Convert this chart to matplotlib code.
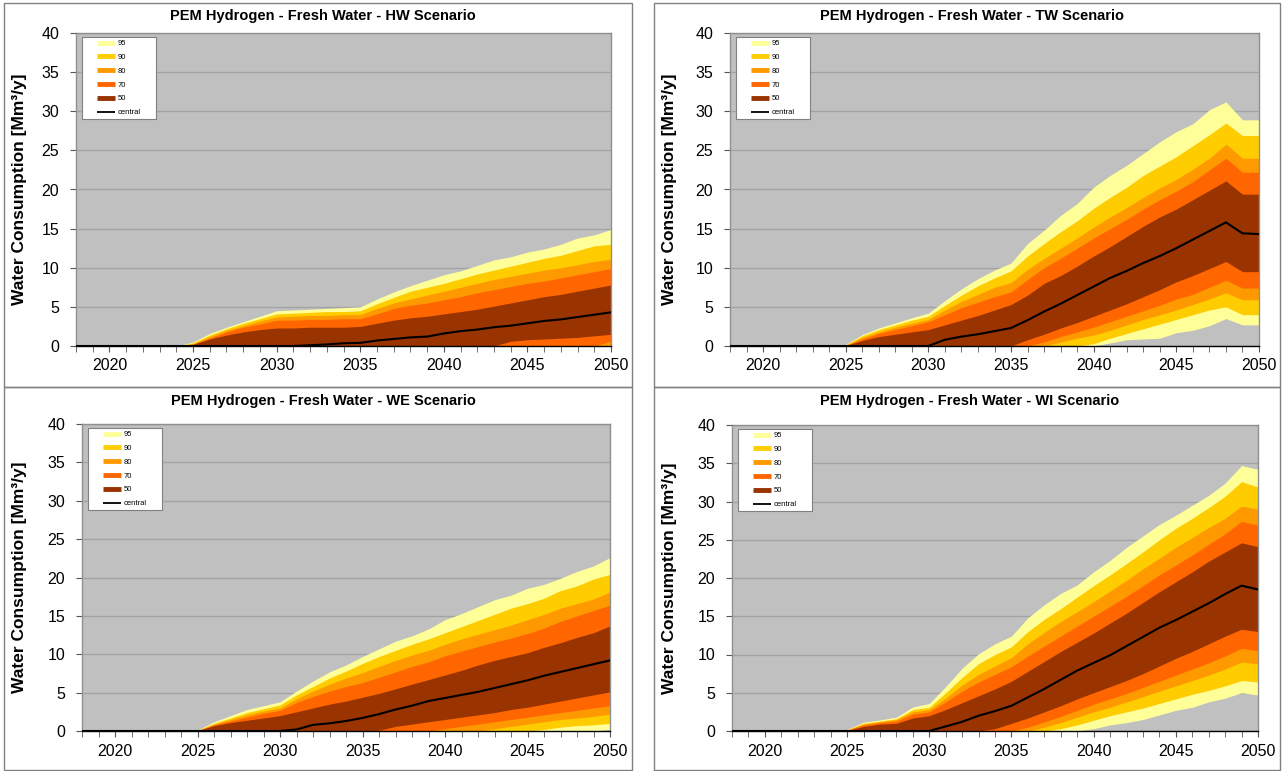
import matplotlib
matplotlib.use("Agg")
import matplotlib.pyplot as plt
from matplotlib.lines import Line2D
from matplotlib.patches import Rectangle
from matplotlib.ticker import MultipleLocator
from matplotlib.legend_handler import HandlerBase

plt.rcParams['font.family'] = ['Liberation Sans', 'DejaVu Sans']

years = list(range(2018, 2051))
band_labels = ['95', '90', '80', '70', '50']
band_colors = ['#FFFF99', '#FFCC00', '#FF9900', '#FF6600', '#993300']

# ---------------- HW scenario ----------------
hw_u95 = [0, 0, 0, 0, 0, 0, 0, 0.5, 1.6, 2.4, 3.1, 3.8, 4.5, 4.6, 4.7, 4.8, 4.9, 5.0, 6.0, 6.9, 7.7, 8.4, 9.1, 9.6, 10.3, 11.0, 11.4, 12.0, 12.4, 13.0, 13.8, 14.2, 14.9]
hw_u90 = [0, 0, 0, 0, 0, 0, 0, 0.4, 1.4, 2.2, 2.9, 3.5, 4.1, 4.2, 4.3, 4.4, 4.4, 4.5, 5.4, 6.2, 7.0, 7.5, 8.0, 8.6, 9.2, 9.7, 10.2, 10.7, 11.2, 11.6, 12.2, 12.8, 13.0]
hw_u80 = [0, 0, 0, 0, 0, 0, 0, 0.3, 1.2, 2.0, 2.6, 3.2, 3.7, 3.8, 3.9, 3.9, 4.0, 4.0, 4.8, 5.5, 6.0, 6.5, 7.0, 7.5, 8.0, 8.5, 8.9, 9.3, 9.7, 10.0, 10.4, 10.8, 11.1]
hw_u70 = [0, 0, 0, 0, 0, 0, 0, 0.25, 1.0, 1.8, 2.4, 2.8, 3.3, 3.3, 3.4, 3.4, 3.5, 3.5, 4.1, 4.8, 5.2, 5.5, 5.9, 6.3, 6.8, 7.2, 7.6, 8.0, 8.3, 8.7, 9.1, 9.5, 9.9]
hw_u50 = [0, 0, 0, 0, 0, 0, 0, 0.2, 0.9, 1.4, 1.8, 2.1, 2.3, 2.3, 2.4, 2.4, 2.4, 2.5, 2.9, 3.3, 3.6, 3.8, 4.1, 4.4, 4.7, 5.1, 5.5, 5.9, 6.3, 6.6, 7.0, 7.4, 7.8]
hw_central = [0, 0, 0, 0, 0, 0, 0, 0, 0, 0, 0, 0, 0, 0, 0.1, 0.2, 0.35, 0.4, 0.7, 0.9, 1.1, 1.2, 1.6, 1.9, 2.1, 2.4, 2.6, 2.9, 3.2, 3.4, 3.7, 4.0, 4.3]
hw_l50 = [0, 0, 0, 0, 0, 0, 0, 0, 0, 0, 0, 0, 0, 0, 0, 0, 0, 0, 0, 0, 0, 0, 0, 0, 0, 0, 0.6, 0.8, 0.9, 1.0, 1.1, 1.3, 1.5]
hw_l70 = [0, 0, 0, 0, 0, 0, 0, 0, 0, 0, 0, 0, 0, 0, 0, 0, 0, 0, 0, 0, 0, 0, 0, 0, 0, 0, 0, 0, 0, 0, 0, 0, 0.6]
hw_l80 = [0, 0, 0, 0, 0, 0, 0, 0, 0, 0, 0, 0, 0, 0, 0, 0, 0, 0, 0, 0, 0, 0, 0, 0, 0, 0, 0, 0, 0, 0, 0, 0, 0]
hw_l90 = [0, 0, 0, 0, 0, 0, 0, 0, 0, 0, 0, 0, 0, 0, 0, 0, 0, 0, 0, 0, 0, 0, 0, 0, 0, 0, 0, 0, 0, 0, 0, 0, 0]
hw_l95 = [0, 0, 0, 0, 0, 0, 0, 0, 0, 0, 0, 0, 0, 0, 0, 0, 0, 0, 0, 0, 0, 0, 0, 0, 0, 0, 0, 0, 0, 0, 0, 0, 0]

# ---------------- TW scenario ----------------
tw_u95 = [0, 0, 0, 0, 0, 0, 0, 0.2, 1.45, 2.3, 2.95, 3.6, 4.2, 5.8, 7.3, 8.6, 9.7, 10.6, 13.1, 14.8, 16.7, 18.2, 20.3, 21.8, 23.1, 24.6, 26.1, 27.4, 28.4, 30.2, 31.2, 28.9, 28.9]
tw_u90 = [0, 0, 0, 0, 0, 0, 0, 0.15, 1.3, 2.1, 2.7, 3.3, 3.8, 5.2, 6.5, 7.7, 8.7, 9.6, 11.5, 13.1, 14.6, 16.0, 17.6, 19.0, 20.3, 21.8, 23.0, 24.2, 25.6, 27.0, 28.5, 26.9, 26.9]
tw_u80 = [0, 0, 0, 0, 0, 0, 0, 0.1, 1.1, 1.8, 2.4, 2.9, 3.4, 4.6, 5.7, 6.6, 7.5, 8.1, 9.8, 11.2, 12.5, 13.8, 15.2, 16.5, 17.7, 19.0, 20.2, 21.3, 22.6, 24.0, 25.8, 24.0, 24.0]
tw_u70 = [0, 0, 0, 0, 0, 0, 0, 0.08, 0.9, 1.6, 2.1, 2.6, 3.1, 4.0, 4.9, 5.6, 6.3, 6.9, 8.5, 10.0, 11.2, 12.5, 13.8, 15.0, 16.2, 17.5, 18.7, 19.8, 21.0, 22.5, 24.0, 22.2, 22.2]
tw_u50 = [0, 0, 0, 0, 0, 0, 0, 0.05, 0.7, 1.2, 1.5, 1.8, 2.1, 2.7, 3.3, 3.9, 4.6, 5.3, 6.5, 8.0, 9.0, 10.2, 11.5, 12.7, 14.0, 15.3, 16.5, 17.5, 18.7, 19.9, 21.1, 19.4, 19.4]
tw_central = [0, 0, 0, 0, 0, 0, 0, 0, 0, 0, 0, 0, 0, 0.8, 1.2, 1.5, 1.9, 2.3, 3.3, 4.4, 5.4, 6.5, 7.6, 8.7, 9.6, 10.6, 11.5, 12.5, 13.6, 14.7, 15.8, 14.4, 14.3]
tw_l50 = [0, 0, 0, 0, 0, 0, 0, 0, 0, 0, 0, 0, 0, 0, 0, 0, 0, 0, 0.8, 1.5, 2.3, 3.0, 3.8, 4.6, 5.4, 6.3, 7.2, 8.2, 9.0, 9.9, 10.8, 9.5, 9.5]
tw_l70 = [0, 0, 0, 0, 0, 0, 0, 0, 0, 0, 0, 0, 0, 0, 0, 0, 0, 0, 0, 0.5, 1.2, 1.8, 2.4, 3.1, 3.8, 4.5, 5.2, 6.0, 6.6, 7.5, 8.4, 7.4, 7.4]
tw_l80 = [0, 0, 0, 0, 0, 0, 0, 0, 0, 0, 0, 0, 0, 0, 0, 0, 0, 0, 0, 0, 0.5, 1.0, 1.4, 2.0, 2.7, 3.4, 4.0, 4.6, 5.3, 6.0, 6.8, 5.9, 5.9]
tw_l90 = [0, 0, 0, 0, 0, 0, 0, 0, 0, 0, 0, 0, 0, 0, 0, 0, 0, 0, 0, 0, 0, 0, 0.3, 1.0, 1.6, 2.2, 2.8, 3.4, 4.0, 4.6, 5.0, 4.0, 4.0]
tw_l95 = [0, 0, 0, 0, 0, 0, 0, 0, 0, 0, 0, 0, 0, 0, 0, 0, 0, 0, 0, 0, 0, 0, 0, 0.4, 0.8, 0.9, 1.0, 1.7, 2.0, 2.6, 3.5, 2.7, 2.7]

# ---------------- WE scenario ----------------
we_u95 = [0, 0, 0, 0, 0, 0, 0, 0.1, 1.2, 2.0, 2.8, 3.3, 3.8, 5.2, 6.5, 7.7, 8.6, 9.7, 10.7, 11.7, 12.4, 13.3, 14.5, 15.3, 16.2, 17.1, 17.7, 18.6, 19.1, 19.9, 20.8, 21.5, 22.6]
we_u90 = [0, 0, 0, 0, 0, 0, 0, 0.08, 1.0, 1.7, 2.4, 2.9, 3.4, 4.7, 5.8, 6.9, 7.8, 8.8, 9.7, 10.5, 11.3, 12.0, 12.8, 13.6, 14.4, 15.2, 16.0, 16.6, 17.3, 18.3, 18.9, 19.8, 20.4]
we_u80 = [0, 0, 0, 0, 0, 0, 0, 0.06, 0.9, 1.5, 2.1, 2.6, 3.0, 4.2, 5.2, 6.1, 6.9, 7.6, 8.4, 9.2, 9.9, 10.5, 11.3, 12.0, 12.6, 13.2, 13.8, 14.5, 15.2, 16.0, 16.6, 17.2, 18.1]
we_u70 = [0, 0, 0, 0, 0, 0, 0, 0.05, 0.8, 1.3, 1.8, 2.3, 2.7, 3.7, 4.5, 5.2, 5.8, 6.3, 7.0, 7.7, 8.4, 9.0, 9.8, 10.4, 11.0, 11.6, 12.1, 12.7, 13.4, 14.3, 15.0, 15.7, 16.4]
we_u50 = [0, 0, 0, 0, 0, 0, 0, 0.03, 0.7, 1.1, 1.4, 1.7, 2.0, 2.5, 3.0, 3.5, 3.9, 4.4, 4.9, 5.5, 6.1, 6.7, 7.3, 7.9, 8.6, 9.2, 9.7, 10.2, 10.9, 11.5, 12.2, 12.8, 13.7]
we_central = [0, 0, 0, 0, 0, 0, 0, 0, 0, 0, 0, 0, 0, 0.2, 0.8, 1.0, 1.3, 1.7, 2.2, 2.8, 3.3, 3.9, 4.3, 4.7, 5.1, 5.6, 6.1, 6.6, 7.2, 7.7, 8.2, 8.7, 9.2]
we_l50 = [0, 0, 0, 0, 0, 0, 0, 0, 0, 0, 0, 0, 0, 0, 0, 0, 0, 0, 0.1, 0.6, 0.9, 1.2, 1.5, 1.8, 2.1, 2.4, 2.8, 3.1, 3.5, 3.9, 4.3, 4.7, 5.1]
we_l70 = [0, 0, 0, 0, 0, 0, 0, 0, 0, 0, 0, 0, 0, 0, 0, 0, 0, 0, 0, 0, 0, 0, 0.3, 0.6, 0.9, 1.2, 1.5, 1.8, 2.1, 2.4, 2.7, 3.0, 3.3]
we_l80 = [0, 0, 0, 0, 0, 0, 0, 0, 0, 0, 0, 0, 0, 0, 0, 0, 0, 0, 0, 0, 0, 0, 0, 0, 0, 0.3, 0.6, 0.9, 1.2, 1.5, 1.7, 1.9, 2.2]
we_l90 = [0, 0, 0, 0, 0, 0, 0, 0, 0, 0, 0, 0, 0, 0, 0, 0, 0, 0, 0, 0, 0, 0, 0, 0, 0, 0, 0, 0, 0.2, 0.5, 0.7, 0.8, 1.0]
we_l95 = [0, 0, 0, 0, 0, 0, 0, 0, 0, 0, 0, 0, 0, 0, 0, 0, 0, 0, 0, 0, 0, 0, 0, 0, 0, 0, 0, 0, 0, 0, 0, 0, 0.2]

# ---------------- WI scenario ----------------
wi_u95 = [0, 0, 0, 0, 0, 0, 0, 0.2, 1.15, 1.45, 1.8, 3.15, 3.6, 5.8, 8.2, 10.1, 11.4, 12.4, 14.8, 16.5, 18.0, 19.1, 20.8, 22.3, 24.0, 25.5, 27.0, 28.2, 29.5, 30.8, 32.4, 34.7, 34.2]
wi_u90 = [0, 0, 0, 0, 0, 0, 0, 0.15, 1.0, 1.3, 1.6, 2.8, 3.1, 5.0, 7.0, 8.8, 10.0, 11.0, 13.0, 14.6, 16.0, 17.5, 19.0, 20.4, 21.9, 23.4, 25.0, 26.5, 27.8, 29.2, 30.7, 32.6, 31.9]
wi_u80 = [0, 0, 0, 0, 0, 0, 0, 0.12, 0.9, 1.2, 1.5, 2.5, 2.8, 4.3, 6.0, 7.4, 8.5, 9.6, 11.4, 12.9, 14.3, 15.6, 16.9, 18.3, 19.7, 21.2, 22.6, 24.0, 25.3, 26.6, 27.8, 29.4, 29.0]
wi_u70 = [0, 0, 0, 0, 0, 0, 0, 0.1, 0.8, 1.1, 1.3, 2.2, 2.5, 3.8, 5.2, 6.4, 7.4, 8.4, 9.8, 11.1, 12.4, 13.7, 15.0, 16.3, 17.6, 19.0, 20.4, 21.7, 23.0, 24.4, 25.8, 27.4, 26.9]
wi_u50 = [0, 0, 0, 0, 0, 0, 0, 0.05, 0.6, 0.9, 1.0, 1.7, 2.0, 2.8, 3.7, 4.6, 5.5, 6.5, 7.8, 9.1, 10.4, 11.6, 12.8, 14.1, 15.4, 16.8, 18.2, 19.5, 20.8, 22.2, 23.4, 24.6, 24.1]
wi_central = [0, 0, 0, 0, 0, 0, 0, 0, 0, 0, 0, 0, 0, 0.6, 1.2, 2.0, 2.6, 3.3, 4.4, 5.5, 6.7, 7.9, 8.9, 9.9, 11.1, 12.3, 13.5, 14.5, 15.6, 16.7, 17.9, 19.0, 18.5]
wi_l50 = [0, 0, 0, 0, 0, 0, 0, 0, 0, 0, 0, 0, 0, 0, 0, 0, 0.3, 1.0, 1.7, 2.5, 3.3, 4.2, 5.0, 5.8, 6.6, 7.5, 8.5, 9.5, 10.4, 11.4, 12.4, 13.3, 13.0]
wi_l70 = [0, 0, 0, 0, 0, 0, 0, 0, 0, 0, 0, 0, 0, 0, 0, 0, 0, 0, 0.5, 1.2, 1.9, 2.7, 3.5, 4.2, 4.9, 5.7, 6.5, 7.3, 8.1, 8.9, 9.8, 10.8, 10.5]
wi_l80 = [0, 0, 0, 0, 0, 0, 0, 0, 0, 0, 0, 0, 0, 0, 0, 0, 0, 0, 0, 0.5, 1.1, 1.8, 2.5, 3.1, 3.8, 4.5, 5.2, 5.9, 6.6, 7.3, 8.1, 9.0, 8.8]
wi_l90 = [0, 0, 0, 0, 0, 0, 0, 0, 0, 0, 0, 0, 0, 0, 0, 0, 0, 0, 0, 0, 0.3, 0.8, 1.4, 2.0, 2.5, 3.0, 3.6, 4.2, 4.8, 5.3, 5.9, 6.6, 6.4]
wi_l95 = [0, 0, 0, 0, 0, 0, 0, 0, 0, 0, 0, 0, 0, 0, 0, 0, 0, 0, 0, 0, 0, 0, 0.3, 0.8, 1.1, 1.5, 2.1, 2.7, 3.1, 3.8, 4.3, 5.0, 4.7]

W, H = 1287, 771
fig = plt.figure(figsize=(W / 100, H / 100), dpi=100)

# panel frames (pixel coords: x0, y0, x1, y1)
frames = [(4, 3, 632, 387), (654, 3, 1280, 387), (4, 387, 632, 770), (654, 387, 1280, 770)]
for x0, y0, x1, y1 in frames:
    fig.patches.append(Rectangle((x0 / W, 1 - y1 / H), (x1 - x0) / W, (y1 - y0) / H,
                                 transform=fig.transFigure, fill=False,
                                 edgecolor='#808080', lw=1.0))


class OffsetLineHandler(HandlerBase):
    """Legend key drawn as a short line in the right part of the handle box."""
    def create_artists(self, legend, orig_handle, xdescent, ydescent, width, height, fontsize, trans):
        y = height / 2 - ydescent
        ln = Line2D([-xdescent + 0.4 * width, -xdescent + width], [y, y],
                    color=orig_handle.get_color(), lw=orig_handle.get_linewidth(),
                    solid_capstyle='butt', transform=trans)
        return [ln]


panels = [
    dict(title='PEM Hydrogen - Fresh Water - HW Scenario', box=(76, 33, 611, 346), tx=323, ty=16, lx=27,
         upper=[hw_u95, hw_u90, hw_u80, hw_u70, hw_u50], lower=[hw_l95, hw_l90, hw_l80, hw_l70, hw_l50], central=hw_central),
    dict(title='PEM Hydrogen - Fresh Water - TW Scenario', box=(730, 33, 1259, 346), tx=972, ty=16, lx=677,
         upper=[tw_u95, tw_u90, tw_u80, tw_u70, tw_u50], lower=[tw_l95, tw_l90, tw_l80, tw_l70, tw_l50], central=tw_central),
    dict(title='PEM Hydrogen - Fresh Water - WE Scenario', box=(82, 424, 610, 731), tx=323, ty=401, lx=27,
         upper=[we_u95, we_u90, we_u80, we_u70, we_u50], lower=[we_l95, we_l90, we_l80, we_l70, we_l50], central=we_central),
    dict(title='PEM Hydrogen - Fresh Water - WI Scenario', box=(732, 425, 1258, 731), tx=970, ty=401, lx=677,
         upper=[wi_u95, wi_u90, wi_u80, wi_u70, wi_u50], lower=[wi_l95, wi_l90, wi_l80, wi_l70, wi_l50], central=wi_central),
]

for p in panels:
    x0, y0, x1, y1 = p['box']
    pw, ph = x1 - x0, y1 - y0
    ax = fig.add_axes([x0 / W, 1 - y1 / H, pw / W, ph / H])
    ax.set_facecolor('#C0C0C0')
    for lo, hi, c in zip(p['lower'], p['upper'], band_colors):
        ax.fill_between(years, lo, hi, color=c, lw=0, zorder=2)
    ax.plot(years, p['central'], color='black', lw=1.5, zorder=3)
    ax.set_xlim(2018, 2050)
    ax.set_ylim(0, 40)
    ax.set_yticks(range(0, 41, 5))
    ax.set_xticks(range(2020, 2051, 5))
    ax.xaxis.set_minor_locator(MultipleLocator(1))
    ax.grid(axis='y', color='#A3A3A3', lw=1.0, zorder=1)
    ax.set_axisbelow(True)
    ax.tick_params(axis='both', which='both', direction='out', labelsize=11.5, color='#555555')
    ax.tick_params(axis='x', which='both', length=4, pad=5)
    ax.tick_params(axis='y', length=4, pad=8)
    for s in ['top', 'right', 'left']:
        ax.spines[s].set_color('#909090')
        ax.spines[s].set_linewidth(1.0)
    ax.spines['bottom'].set_color('black')
    ax.spines['bottom'].set_linewidth(1.0)
    ax.set_ylabel('Water Consumption [Mm³/y]', fontsize=12.5, fontweight='bold')
    ax.yaxis.set_label_coords(-(x0 - p['lx']) / pw, 0.5)
    fig.text(p['tx'] / W, 1 - p['ty'] / H, p['title'], ha='center', va='center',
             fontsize=10.5, fontweight='bold')

    handles = [Line2D([], [], color=c, lw=3.5) for c in band_colors]
    handles.append(Line2D([], [], color='black', lw=1.3))
    leg = ax.legend(handles, band_labels + ['central'], loc='upper left',
                    bbox_to_anchor=(6 / pw, 1 - 4 / ph, 74 / pw, 0), mode='expand',
                    handler_map={Line2D: OffsetLineHandler()},
                    fontsize=5.5, frameon=True, fancybox=False, framealpha=1,
                    edgecolor='#808080', handlelength=3.9, handletextpad=0.35,
                    labelspacing=0.84, borderpad=0.4, borderaxespad=0)
    leg.get_frame().set_linewidth(0.8)
    leg.set_zorder(5)

fig.savefig('out.png', dpi=100)
